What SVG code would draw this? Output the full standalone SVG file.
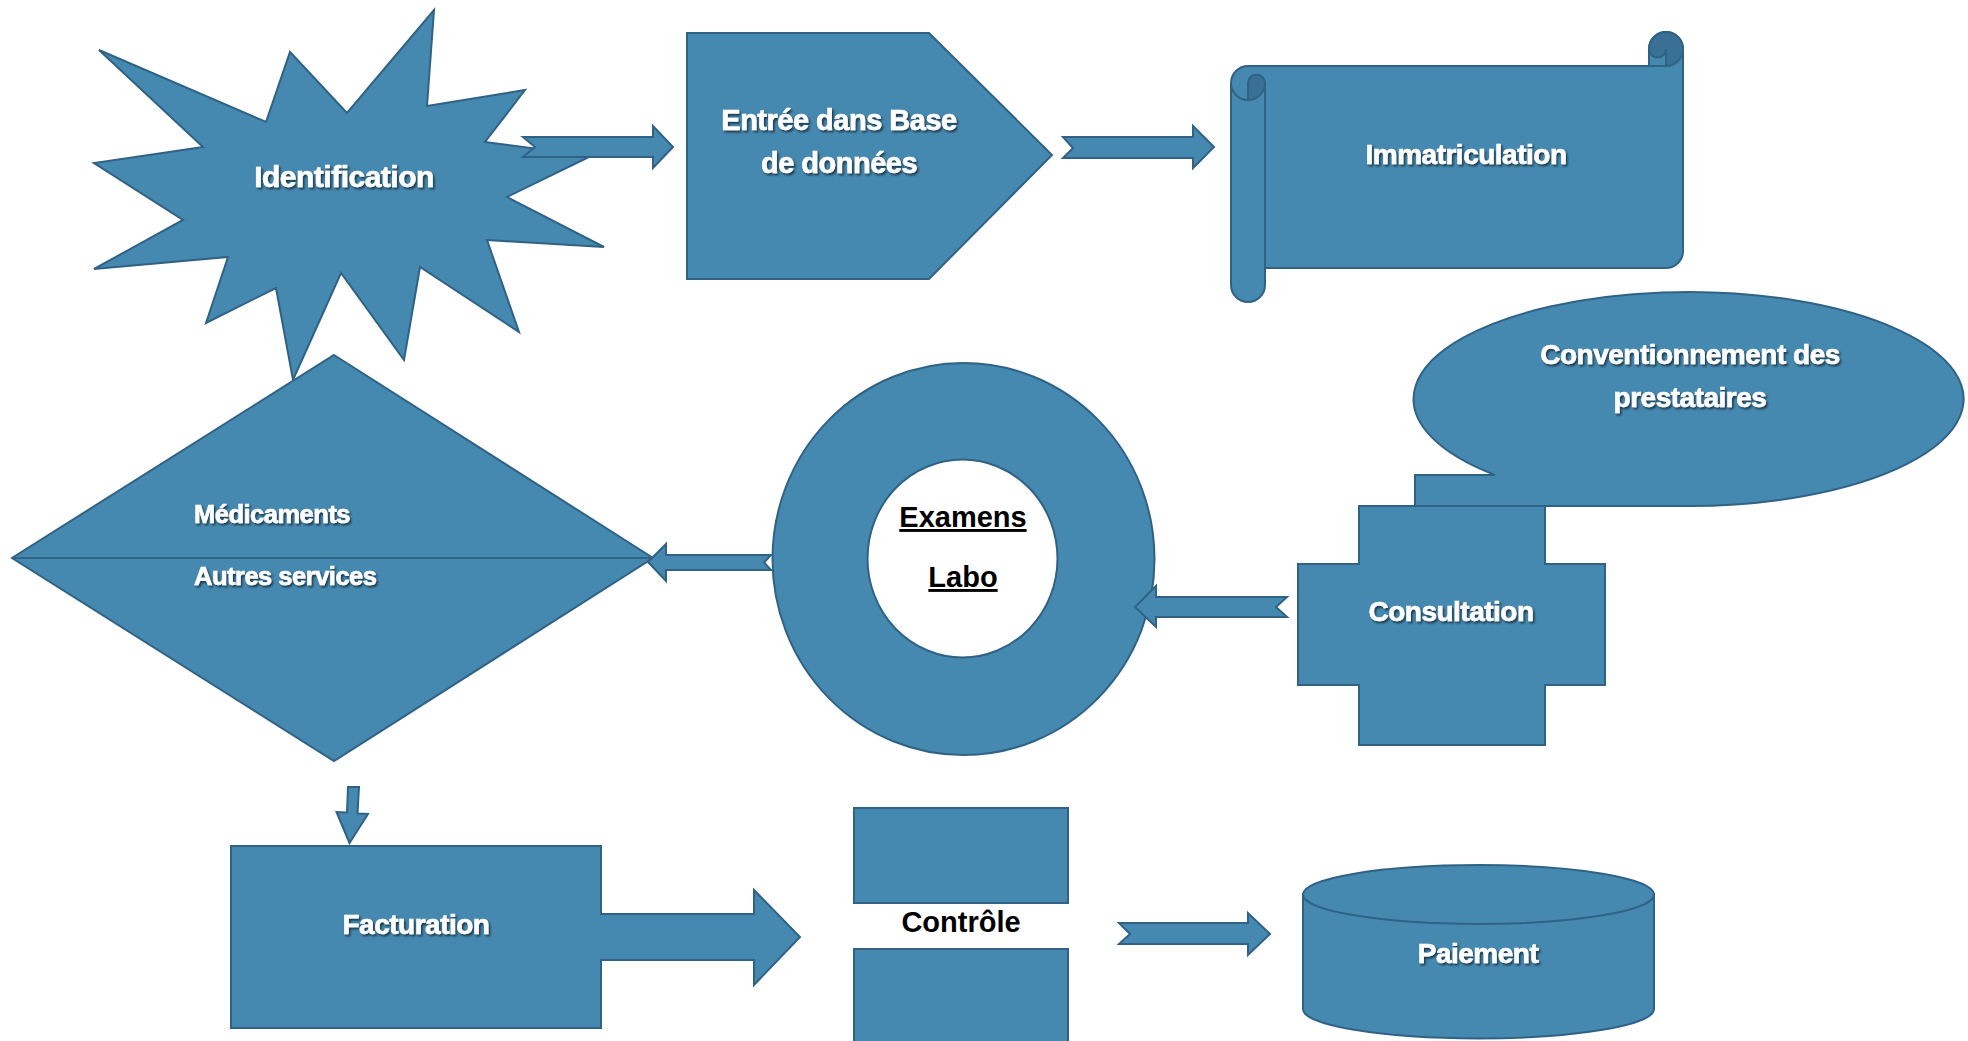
<svg xmlns="http://www.w3.org/2000/svg" width="1968" height="1041" viewBox="0 0 1968 1041">
  <defs>
    <filter id="txtShadow" x="-10%" y="-30%" width="120%" height="160%">
      <feDropShadow dx="1.6" dy="2" stdDeviation="1.1" flood-color="#000" flood-opacity="0.6"/>
    </filter>
    <style>
      .shape { fill: #4689B0; stroke: #2F6284; stroke-width: 2; stroke-linejoin: miter; }
      .curl { fill: #3A7096; stroke: #2F6284; stroke-width: 2; }
      .edge { fill: none; stroke: #2F6284; stroke-width: 2; }
      .arrow { fill: #4689B0; stroke: #2F6284; stroke-width: 2; stroke-linejoin: miter; }
      .lbl { font-family: "Liberation Sans", Arial, Helvetica, sans-serif; font-weight: bold; fill: #ffffff; stroke: #ffffff; stroke-width: 0.6; text-anchor: middle; letter-spacing: -0.5px; filter: url(#txtShadow); }
      .lbl-left { text-anchor: start; }
      .dark { font-family: "Liberation Sans", Arial, Helvetica, sans-serif; font-weight: bold; fill: #000000; text-anchor: middle; }
      .ul { text-decoration: underline; }
    </style>
  </defs>

  <rect width="1968" height="1041" fill="#ffffff"/>

  <!-- Identification: explosion star -->
  <g id="node-identification">
    <polygon class="shape" points="99,50 266,122 290,52 347,113 434,10 427,106 525,90 485,142 591,156 507,197 604,247 487,240 519,332 420,267 404,360 341,273 293,380 276,288 206,323 228,257 94,269 183,220 94,163 203,147"/>
    <text class="lbl" x="344" y="187" font-size="30">Identification</text>
  </g>

  <!-- Entrée dans Base de données: pentagon -->
  <g id="node-entree">
    <polygon class="shape" points="687,33 929,33 1052,155 929,279 687,279"/>
    <text class="lbl" x="839" y="130" font-size="29">Entrée dans Base</text>
    <text class="lbl" x="839" y="173" font-size="29">de données</text>
  </g>

  <!-- Immatriculation: horizontal scroll -->
  <g id="node-immatriculation">
    <path class="shape" d="M1231,83 A17,17 0 0 1 1248,66 L1649,66 L1649,49 A17,17 0 0 1 1683,49 L1683,251 A17,17 0 0 1 1666,268 L1265,268 L1265,285 A17,17 0 0 1 1231,285 Z"/>
    <path class="curl" d="M1248,100 A17,17 0 0 0 1265,83 A8.5,8.5 0 0 0 1248,83 Z"/>
    <path class="curl" d="M1666,66 A17,17 0 1 0 1649,49 A8.5,8.5 0 0 0 1666,49 Z"/>
    <path class="edge" d="M1265,83 L1265,268 M1649,66 L1666,66 M1231,83 A17,17 0 0 0 1248,100"/>
    <text class="lbl" x="1466" y="164" font-size="28">Immatriculation</text>
  </g>

  <!-- Conventionnement des prestataires: ellipse with tab -->
  <g id="node-conventionnement">
    <path class="shape" d="M1495,475 L1415,475 L1415,506 L1689,506 A275,107 0 1 0 1495,475 Z"/>
    <text class="lbl" x="1690" y="364" font-size="28">Conventionnement des</text>
    <text class="lbl" x="1690" y="407" font-size="28">prestataires</text>
  </g>

  <!-- Consultation: plus shape -->
  <g id="node-consultation">
    <polygon class="shape" points="1359,506 1545,506 1545,564 1605,564 1605,685 1545,685 1545,745 1359,745 1359,685 1298,685 1298,564 1359,564"/>
    <text class="lbl" x="1451" y="621" font-size="28">Consultation</text>
  </g>

  <!-- Médicaments / Autres services: sort diamond -->
  <g id="node-medicaments">
    <polygon class="shape" points="334,355 653,558 334,761 12,558"/>
    <line class="edge" x1="12" y1="558" x2="653" y2="558"/>
    <text class="lbl lbl-left" x="194" y="523" font-size="25.5">Médicaments</text>
    <text class="lbl lbl-left" x="194" y="585" font-size="25.5">Autres services</text>
  </g>

  <!-- Examens Labo: donut -->
  <g id="node-examens">
    <path class="shape" fill-rule="evenodd" d="M772.5,559 A191,196 0 1 0 1154.5,559 A191,196 0 1 0 772.5,559 Z M867.5,558.5 A95,99 0 1 1 1057.5,558.5 A95,99 0 1 1 867.5,558.5 Z"/>
    <text class="dark ul" x="963" y="527" font-size="29">Examens</text>
    <text class="dark ul" x="963" y="587" font-size="29">Labo</text>
  </g>

  <!-- Facturation: box with right arrow -->
  <g id="node-facturation">
    <path class="shape" d="M231,846 L601,846 L601,914 L754,914 L754,890 L800,937 L754,985 L754,960 L601,960 L601,1028 L231,1028 Z"/>
    <text class="lbl" x="416" y="934" font-size="28">Facturation</text>
  </g>

  <!-- Contrôle: split block with caption -->
  <g id="node-controle">
    <rect class="shape" x="854" y="808" width="214" height="95"/>
    <rect class="shape" x="854" y="949" width="214" height="100"/>
    <text class="dark" x="961" y="932" font-size="29">Contrôle</text>
  </g>

  <!-- Paiement: cylinder -->
  <g id="node-paiement">
    <path class="shape" d="M1303,894 L1303,1009 A175.5,29.5 0 0 0 1654,1009 L1654,894 Z"/>
    <ellipse class="shape" cx="1478.5" cy="894.5" rx="175.5" ry="29.5"/>
    <text class="lbl" x="1478" y="963" font-size="28">Paiement</text>
  </g>

  <!-- Connectors: notched block arrows -->
  <g id="connectors">
    <polygon class="arrow" points="523,137 653,137 653,126 673,147 653,168 653,157 523,157 535,147"/>
    <polygon class="arrow" points="1063,137 1193,137 1193,126 1214,147 1193,168 1193,158 1063,158 1073,148"/>
    <polygon class="arrow" points="1287,597 1156,597 1156,586 1135,607 1156,627 1156,617 1287,617 1276,607"/>
    <polygon class="arrow" points="771,555 666,555 666,544 648,562 666,581 666,570 771,570 764,562.5"/>
    <polygon class="arrow" points="348,787 359,787 357.5,813.5 368,814 349.5,843 336.5,812 347,812.5"/>
    <polygon class="arrow" points="1119,923 1248,923 1248,913 1270,934 1248,955 1248,944 1119,944 1130,934"/>
  </g>
</svg>
